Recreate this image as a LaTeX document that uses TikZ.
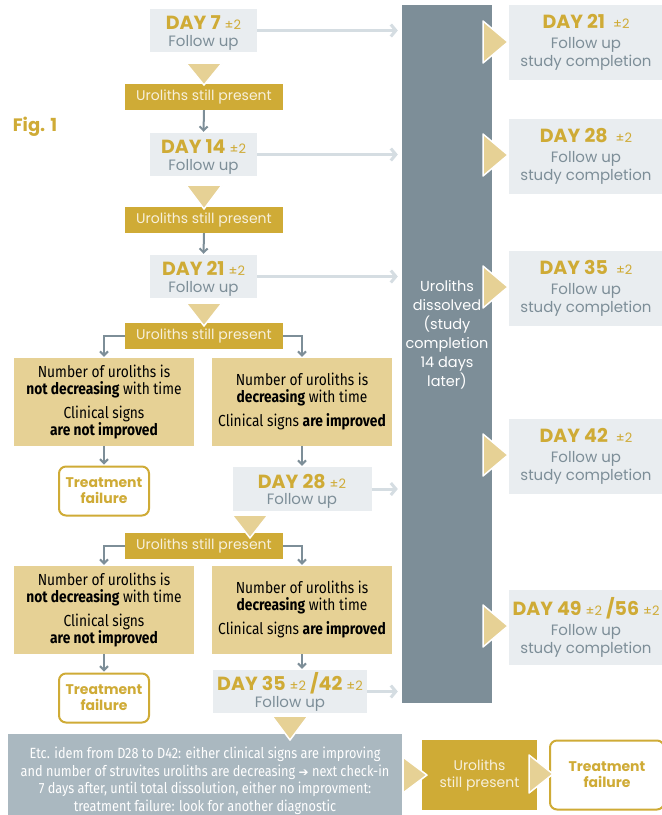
\documentclass[tikz,border=0pt]{standalone}
\usepackage{fontspec}
\setmainfont{Poppins}
\newfontfamily\narrowfont[FakeStretch=0.86]{Fira Sans}
\newfontfamily\symfont{DejaVu Sans}
\usetikzlibrary{arrows.meta,calc,positioning}
\definecolor{gold}{HTML}{CFAB36}
\definecolor{tan}{HTML}{E6D195}
\definecolor{paleg}{HTML}{E9EDF0}
\definecolor{slate}{HTML}{7D8E98}
\definecolor{mist}{HTML}{D5DDE2}
\definecolor{fog}{HTML}{AAB8C0}
\definecolor{cream}{HTML}{F7F0DC}
\newcommand{\dayfont}{\color{gold}\bfseries\fontsize{19}{19}\selectfont}
\newcommand{\plustwo}{{\color{gold}\fontsize{13}{13}\selectfont ±2}}
\newcommand{\lift}{\rule{0pt}{19.5pt}}
\newcommand{\downtri}[3]{\filldraw[pointer] (#1-18,#2) -- (#1+18,#2) -- (#1,#3) -- cycle;}
\newcommand{\righttri}[4]{\filldraw[pointer] (#1,#2-#4) -- (#1+#3,#2) -- (#1,#2+#4) -- cycle;}

\begin{document}
\begin{tikzpicture}[x=1pt,y=-1pt,
  followbox/.style={fill=paleg,minimum width=107pt,minimum height=43pt,inner sep=0pt,align=center,text=slate,font=\fontsize{15}{16}\selectfont},
  presentbox/.style={fill=gold,text=cream,minimum width=158pt,minimum height=26pt,inner sep=0pt,font=\fontsize{14}{16}\selectfont},
  signbox/.style={fill=tan,minimum width=180pt,minimum height=88pt,inner sep=0pt,align=center,font=\narrowfont\fontsize{16}{17}\selectfont},
  failbox/.style={draw=gold,line width=2pt,rounded corners=7pt,fill=white,text=gold,minimum width=90pt,minimum height=49pt,inner sep=0pt,align=center,font=\bfseries\fontsize{14}{16}\selectfont},
  donebox/.style={fill=paleg,minimum width=154pt,minimum height=75pt,inner sep=0pt,align=center,text=slate,font=\fontsize{15}{17.5}\selectfont},
  longarrow/.style={draw=mist,line width=3pt,-{Straight Barb[length=5pt,width=12pt]},shorten >=4pt},
  steparrow/.style={draw=slate,line width=2pt,-{Straight Barb[length=4pt,width=8pt]},shorten >=1pt},
  pointer/.style={fill=tan,draw=white,line width=1.5pt,line join=round}]
\useasboundingbox (0,0) rectangle (662,815);

% column of dissolved cases
\node[fill=slate,minimum width=90pt,minimum height=698pt,inner sep=0pt] (col) at (447,354) {};
\node[text=white,align=center,font=\fontsize{14.5}{19}\selectfont] (coltxt) at (447,335) {Uroliths\\dissolved\\(study\\completion\\14 days\\later)};
\node[text=gold,font=\bfseries\fontsize{18}{18}\selectfont] (fig) at (35,127) {Fig. 1};

% follow up steps
\node[followbox] (d7) at (203.5,30.5) {\lift{\dayfont DAY 7} \plustwo\\[1pt]Follow up};
\node[presentbox] (u1) at (204,97) {Uroliths still present};
\node[followbox] (d14) at (203.5,154.5) {\lift{\dayfont DAY 14} \plustwo\\[1pt]Follow up};
\node[presentbox] (u2) at (204,220) {Uroliths still present};
\node[followbox] (d21) at (203.5,276.5) {\lift{\dayfont DAY 21} \plustwo\\[1pt]Follow up};
\node[presentbox] (u3) at (204,336) {Uroliths still present};
\node[signbox] (no1) at (104,402) {Number of uroliths is\\\textbf{not decreasing} with time\\[7pt]Clinical signs\\\textbf{are not improved}};
\node[signbox] (yes1) at (302,402) {Number of uroliths is\\\textbf{decreasing} with time\\[7pt]Clinical signs \textbf{are improved}};
\node[failbox] (tf1) at (104,491) {Treatment\\failure};
\node[followbox,minimum width=139pt,minimum height=44pt] (d28) at (302,489) {\lift{\dayfont DAY 28} \plustwo\\[0pt]Follow up};
\node[presentbox] (u4) at (204,546) {Uroliths still present};
\node[signbox] (no2) at (104,610) {Number of uroliths is\\\textbf{not decreasing} with time\\[7pt]Clinical signs\\\textbf{are not improved}};
\node[signbox] (yes2) at (302,610) {Number of uroliths is\\\textbf{decreasing} with time\\[7pt]Clinical signs \textbf{are improved}};
\node[failbox] (tf2) at (104,698) {Treatment\\failure};
\node[followbox,minimum width=154pt] (d35) at (290,691.5) {{\dayfont DAY 35} \plustwo\ {\dayfont/42} \plustwo\\[1pt]Follow up};

% bottom row
\node[fill=fog,minimum width=394pt,minimum height=94pt,inner sep=0pt,text=white,align=center,font=\narrowfont\fontsize{14.8}{17.5}\selectfont] (etc) at (205,781) {Etc. idem from D28 to D42: either clinical signs are improving\\and number of struvites uroliths are decreasing {\symfont\fontsize{12}{12}\selectfont ➔} next check-in\\7 days after, until total dissolution, either no improvment:\\treatment failure: look for another diagnostic};
\node[fill=gold,text=cream,minimum width=115pt,minimum height=70pt,inner sep=0pt,align=center,font=\fontsize{14}{17}\selectfont] (u5) at (479.5,775) {Uroliths\\still present};
\node[failbox,minimum width=114pt,minimum height=69pt] (tf3) at (607,775) {Treatment\\failure};

% study completion
\node[donebox] (e21) at (586,42.5) {{\dayfont DAY 21}~~\plustwo\\[2.5pt]Follow up\\study completion};
\node[donebox] (e28) at (586,156.5) {{\dayfont DAY 28}~~\plustwo\\[2.5pt]Follow up\\study completion};
\node[donebox] (e35) at (586,288.5) {{\dayfont DAY 35}~~\plustwo\\[2.5pt]Follow up\\study completion};
\node[donebox] (e42) at (586,456.5) {{\dayfont DAY 42}~~\plustwo\\[2.5pt]Follow up\\study completion};
\node[donebox] (e49) at (586,627.5) {{\dayfont DAY 49} \plustwo\ {\dayfont/56} \plustwo\\[2.5pt]Follow up\\study completion};

% connectors
\draw[steparrow] (u1.south) -- (d14.north);
\draw[steparrow] (u2.south) -- (d21.north);
\draw[steparrow] (u3.west) -| (no1.north);
\draw[steparrow] (u3.east) -| (yes1.north);
\draw[steparrow] (no1.south) -- (tf1.north);
\draw[steparrow] (yes1.south) -- (d28.north);
\draw[steparrow] (u4.west) -| (no2.north);
\draw[steparrow] (u4.east) -| (yes2.north);
\draw[steparrow] (no2.south) -- (tf2.north);
\draw[steparrow] (yes2.south) -- (yes2.south |- d35.north);
\draw[longarrow] (d7.east) -- (d7.east -| col.west);
\draw[longarrow] (d14.east) -- (d14.east -| col.west);
\draw[longarrow] (d21.east) -- (d21.east -| col.west);
\draw[longarrow] (d28.east) -- (d28.east -| col.west);
\draw[longarrow] (d35.east) -- (d35.east -| col.west);

% pointers
\downtri{204}{63}{85}
\downtri{204}{185}{209}
\downtri{204}{303}{326}
\downtri{250}{515}{538}
\downtri{290}{716}{740}
\foreach \yc in {42,155,287,455,626}
  {\righttri{483}{\yc}{25}{21}}
\righttri{403}{775}{24}{18}
\righttri{529}{774}{24}{19}
\end{tikzpicture}
\end{document}
